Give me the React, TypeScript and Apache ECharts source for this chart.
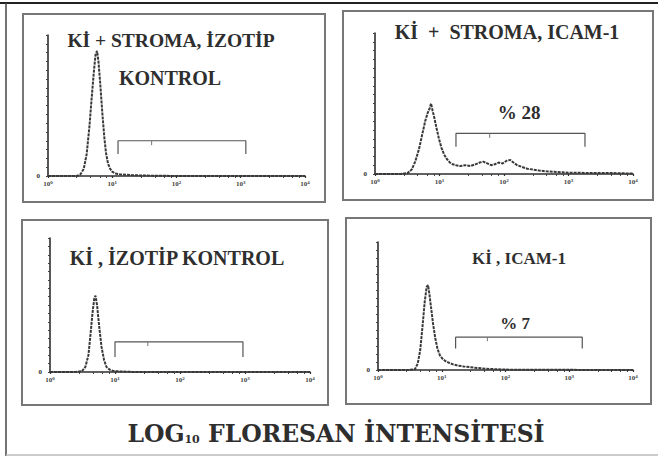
import React, { useEffect, useRef } from "react";
import * as echarts from "echarts";

// ---- data ----
const panelTitles = [
  ["Kİ + STROMA, İZOTİP", "KONTROL"],
  ["Kİ  +  STROMA, ICAM-1"],
  ["Kİ , İZOTİP KONTROL"],
  ["Kİ , ICAM-1"],
];
const percentLabels = ["", "% 28", "", "% 7"];
const xTickLabels = ["10^0", "10^1", "10^2", "10^3", "10^4"];
const xAxisTitle = ["LOG", "10", " FLORESAN İNTENSİTESİ"];

const hist1: number[][] = [
  [1, 0], [2, 0], [2.8, 0], [3.2, 2], [3.6, 8], [4.0, 25], [4.4, 55], [4.8, 90], [5.2, 120],
  [5.5, 138], [5.8, 142], [6.1, 130], [6.5, 105], [7.0, 72], [7.5, 45], [8.0, 26], [8.6, 14],
  [9.3, 8], [10, 5], [11, 3], [13, 2], [16, 1.5], [20, 1], [30, 0.5], [50, 0.3], [100, 0], [10000, 0],
];
const hist2: number[][] = [
  [1, 0], [2.5, 0], [3.2, 1], [3.7, 5], [4.2, 14], [4.8, 28], [5.4, 45], [6.0, 60], [6.6, 70],
  [7.0, 74], [7.4, 80], [7.8, 72], [8.3, 64], [9.0, 52], [9.8, 40], [10.7, 30], [11.8, 22],
  [13, 17], [14.5, 13], [16, 11], [18, 10], [21, 9], [25, 10], [30, 9], [36, 11], [42, 13],
  [48, 14], [55, 12], [63, 10], [72, 11], [82, 13], [95, 12], [110, 15], [125, 16], [140, 13],
  [160, 10], [190, 8], [230, 6], [280, 5], [350, 4], [450, 3], [600, 2.5], [800, 2], [1000, 1.5],
  [1500, 1.5], [2000, 1], [3000, 1.2], [5000, 1], [10000, 0.5],
];
const hist3: number[][] = [
  [1, 0], [2.5, 0], [3.1, 1], [3.5, 6], [3.9, 20], [4.2, 45], [4.5, 70], [4.8, 88], [5.0, 91],
  [5.3, 80], [5.7, 55], [6.2, 30], [6.8, 14], [7.4, 6], [8.2, 3], [9.2, 1.5], [10.5, 1], [13, 0.5],
  [20, 0], [10000, 0],
];
const hist4: number[][] = [
  [1, 0], [3, 0], [3.8, 1], [4.2, 8], [4.6, 25], [5.0, 55], [5.4, 85], [5.8, 104], [6.1, 106],
  [6.4, 95], [6.8, 78], [7.3, 58], [7.9, 40], [8.6, 26], [9.4, 18], [10.3, 14], [11.5, 11],
  [13, 9], [15, 7], [18, 5.5], [22, 4.5], [28, 3.5], [36, 2.5], [50, 1.5], [70, 1], [100, 0.5],
  [200, 0.3], [10000, 0],
];
const histograms = [hist1, hist2, hist3, hist4];

// gate brackets: [from, to], bracket level, end level, middle tick x
const gateRanges = [[12.3, 1200], [18, 1800], [10, 930], [16.5, 1600]];
const gateLevels = [40, 46, 36, 41];
const gateEnds = [25, 31, 18, 27];
const gateMidTicks = [41, 60, 32, 52];

// ---- layout ----
const grids = [
  { left: 48, top: 35, width: 257, height: 141 },
  { left: 375, top: 33, width: 258, height: 141 },
  { left: 50, top: 238, width: 260, height: 134 },
  { left: 378, top: 242, width: 255, height: 128 },
];
const frames = [
  { x: 23, y: 14, width: 302, height: 188 },
  { x: 343, y: 11, width: 310, height: 189 },
  { x: 22, y: 220, width: 306, height: 185 },
  { x: 346, y: 218, width: 305, height: 186 },
];
const titlePos = [
  [[171, 40, 19.5], [170, 78, 20]],
  [[507, 32, 20]],
  [[177, 258, 20]],
  [[519, 258, 17]],
];
const percentPos = [[0, 0], [519, 112], [0, 0], [515, 323]];

const SERIF = "'Liberation Serif', 'DejaVu Serif', serif";
const INK = "#2e2e2e";

export default function App() {
  const ref = useRef<HTMLDivElement>(null);
  useEffect(() => {
    document.body.style.margin = "0";
    const chart = echarts.init(ref.current!, undefined, { renderer: "svg" });

    const xAxes = grids.map((_, i) => ({
      type: "log",
      gridIndex: i,
      min: 1,
      max: 10000,
      z: 3,
      axisLine: { show: true, onZero: false, lineStyle: { color: INK, width: 1.6 } },
      axisTick: { show: true, length: 2, lineStyle: { color: INK, width: 1.2 } },
      minorTick: { show: true, splitNumber: 5, length: 2, lineStyle: { color: "#444", width: 1 } },
      splitLine: { show: false },
      axisLabel: {
        margin: 4,
        color: "#444",
        formatter: (v: number) => {
          const idx = Math.round(Math.log10(v));
          const parts = (xTickLabels[idx] || "").split("^");
          return `{b|${parts[0]}}{s|${parts[1] || ""}}`;
        },
        rich: {
          b: { fontSize: 7, fontFamily: SERIF, color: "#444", fontWeight: "bold" },
          s: { fontSize: 5, fontFamily: SERIF, color: "#444", fontWeight: "bold", verticalAlign: "top", padding: [0, 0, 3, 0] },
        },
      },
    }));
    const yAxes = grids.map((_, i) => ({
      type: "value",
      gridIndex: i,
      min: 0,
      max: 160,
      interval: 10,
      z: 3,
      axisLine: { show: true, onZero: false, lineStyle: { color: INK, width: 1.6 } },
      axisTick: { show: true, length: 2, lineStyle: { color: "#444", width: 1.2 } },
      splitLine: { show: false },
      axisLabel: {
        margin: 8,
        fontSize: 7,
        fontFamily: SERIF,
        fontWeight: "bold",
        color: INK,
        formatter: (v: number) => (v === 0 ? "0" : ""),
      },
    }));

    const series: any[] = [];
    histograms.forEach((h, i) => {
      series.push({
        type: "line",
        xAxisIndex: i,
        yAxisIndex: i,
        data: h,
        showSymbol: false,
        lineStyle: { color: "#383838", width: 2, type: [3, 1] },
      });
      const [a, b] = gateRanges[i];
      series.push({
        type: "line",
        xAxisIndex: i,
        yAxisIndex: i,
        data: [[a, gateEnds[i]], [a, gateLevels[i]], [b, gateLevels[i]], [b, gateEnds[i]]],
        showSymbol: false,
        lineStyle: { color: "#555", width: 1.2 },
      });
      series.push({
        type: "line",
        xAxisIndex: i,
        yAxisIndex: i,
        data: [[gateMidTicks[i], gateLevels[i]], [gateMidTicks[i], gateLevels[i] - 5]],
        showSymbol: false,
        lineStyle: { color: "#777", width: 1 },
      });
    });

    const graphics: any[] = [
      { type: "line", shape: { x1: 0, y1: 3, x2: 658, y2: 3 }, style: { stroke: "#222", lineWidth: 2 } },
      { type: "line", shape: { x1: 6, y1: 3, x2: 6, y2: 456 }, style: { stroke: "#444", lineWidth: 1.5 } },
      { type: "line", shape: { x1: 6, y1: 455, x2: 658, y2: 455 }, style: { stroke: "#bbb", lineWidth: 1.5 } },
    ];
    frames.forEach((f) => {
      graphics.push({
        type: "rect",
        shape: f,
        style: { fill: "none", stroke: "#777", lineWidth: 2 },
      });
    });
    panelTitles.forEach((lines, i) => {
      lines.forEach((t, j) => {
        const [x, y, fs] = titlePos[i][j];
        graphics.push({
          type: "text",
          x,
          y,
          style: {
            text: t,
            fontFamily: SERIF,
            fontWeight: "bold",
            fontSize: fs,
            fill: INK,
            align: "center",
            verticalAlign: "middle",
          },
        });
      });
    });
    percentLabels.forEach((t, i) => {
      if (!t) return;
      graphics.push({
        type: "text",
        x: percentPos[i][0],
        y: percentPos[i][1],
        style: {
          text: t,
          fontFamily: SERIF,
          fontWeight: "bold",
          fontSize: i === 1 ? 19 : 17,
          fill: INK,
          align: "center",
          verticalAlign: "middle",
        },
      });
    });
    graphics.push({
      type: "text",
      x: 336,
      y: 434,
      style: {
        text: `{a|${xAxisTitle[0]}}{s|${xAxisTitle[1]}}{a|${xAxisTitle[2]}}`,
        align: "center",
        verticalAlign: "middle",
        rich: {
          a: { fontFamily: "'DejaVu Serif', serif", fontWeight: "bold", fontSize: 23.5, fill: INK, color: INK },
          s: { fontFamily: "'DejaVu Serif', serif", fontWeight: "bold", fontSize: 11, fill: INK, color: INK, padding: [11, 0, 0, 0] },
        },
      },
    });

    chart.setOption({
      animation: false,
      backgroundColor: "#fff",
      grid: grids,
      xAxis: xAxes,
      yAxis: yAxes,
      series,
      graphic: graphics,
    });
    return () => chart.dispose();
  }, []);
  return <div ref={ref} style={{ width: 658, height: 456 }} />;
}
